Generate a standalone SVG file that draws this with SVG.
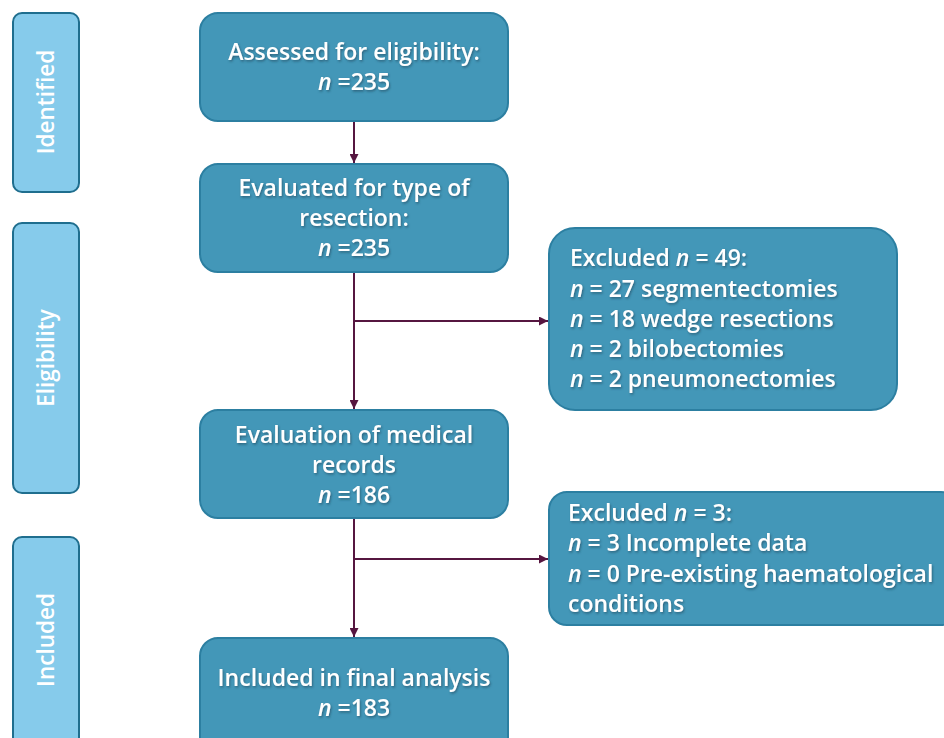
<svg xmlns="http://www.w3.org/2000/svg" width="944" height="738" viewBox="0 0 944 738">
<defs>
<style>
.side{fill:#86CBEB;stroke:#1F6E8E;stroke-width:2}
.box{fill:#4397B8;stroke:#2C7FA1;stroke-width:2}
.t{font-family:"Open Sans",Lato,sans-serif;font-size:23px;font-weight:600;fill:#ffffff;filter:url(#sh)}
.c{text-anchor:middle}
.st{font-family:"Open Sans",Lato,sans-serif;font-size:22.5px;font-weight:600;fill:#ffffff;text-anchor:middle}
.conn{stroke:#561640;stroke-width:2;fill:none}
</style>
<filter id="sh" x="-10%" y="-20%" width="120%" height="150%">
<feDropShadow dx="1" dy="1.5" stdDeviation="1" flood-color="#1a3f55" flood-opacity="0.6"/>
</filter>
<marker id="ah" viewBox="0 0 10 10" refX="10" refY="5" markerWidth="9" markerHeight="9" markerUnits="userSpaceOnUse" orient="auto">
<path d="M0,0 L10,5 L0,10 z" fill="#561640"/>
</marker>
</defs>
<rect width="944" height="738" fill="#ffffff"/>
<g id="side-identified"><rect class="side" x="13" y="13" width="66" height="179" rx="9"/><text class="st" transform="translate(54,102) rotate(-90)">Identified</text></g>
<g id="side-eligibility"><rect class="side" x="13" y="223" width="66" height="270" rx="9"/><text class="st" transform="translate(54,358) rotate(-90)">Eligibility</text></g>
<g id="side-included"><rect class="side" x="13" y="537" width="66" height="215" rx="9"/><text class="st" transform="translate(54,640) rotate(-90)">Included</text></g>
<g id="connectors">
<line class="conn" x1="354" y1="121" x2="354" y2="163" marker-end="url(#ah)"/>
<line class="conn" x1="354" y1="272" x2="354" y2="409" marker-end="url(#ah)"/>
<line class="conn" x1="354" y1="321" x2="548" y2="321" marker-end="url(#ah)"/>
<line class="conn" x1="354" y1="518" x2="354" y2="637" marker-end="url(#ah)"/>
<line class="conn" x1="354" y1="559" x2="548" y2="559" marker-end="url(#ah)"/>
</g>
<g id="n1"><rect class="box" x="200" y="13" width="308" height="108" rx="18"/>
<text class="t c" x="354" y="60">Assessed for eligibility:</text>
<text class="t c" x="354" y="90"><tspan font-style="italic">n</tspan> =235</text></g>
<g id="n2"><rect class="box" x="200" y="164" width="308" height="108" rx="18"/>
<text class="t c" x="354" y="196">Evaluated for type of</text>
<text class="t c" x="354" y="226">resection:</text>
<text class="t c" x="354" y="256"><tspan font-style="italic">n</tspan> =235</text></g>
<g id="n3"><rect class="box" x="200" y="410" width="308" height="108" rx="18"/>
<text class="t c" x="354" y="443">Evaluation of medical</text>
<text class="t c" x="354" y="473">records</text>
<text class="t c" x="354" y="503"><tspan font-style="italic">n</tspan> =186</text></g>
<g id="n4"><rect class="box" x="200" y="638" width="308" height="118" rx="18"/>
<text class="t c" x="354" y="686">Included in final analysis</text>
<text class="t c" x="354" y="716"><tspan font-style="italic">n</tspan> =183</text></g>
<g id="ex1"><rect class="box" x="549" y="228" width="348" height="182" rx="26"/>
<text class="t" x="570" y="266">Excluded <tspan font-style="italic">n</tspan> = 49:</text>
<text class="t" x="570" y="297"><tspan font-style="italic">n</tspan> = 27 segmentectomies</text>
<text class="t" x="570" y="327"><tspan font-style="italic">n</tspan> = 18 wedge resections</text>
<text class="t" x="570" y="357"><tspan font-style="italic">n</tspan> = 2 bilobectomies</text>
<text class="t" x="570" y="387"><tspan font-style="italic">n</tspan> = 2 pneumonectomies</text></g>
<g id="ex2"><rect class="box" x="549" y="492" width="410" height="133" rx="18"/>
<text class="t" x="568" y="521">Excluded <tspan font-style="italic">n</tspan> = 3:</text>
<text class="t" x="568" y="551"><tspan font-style="italic">n</tspan> = 3 Incomplete data</text>
<text class="t" x="568" y="582"><tspan font-style="italic">n</tspan> = 0 Pre-existing haematological</text>
<text class="t" x="568" y="612">conditions</text></g>
</svg>
